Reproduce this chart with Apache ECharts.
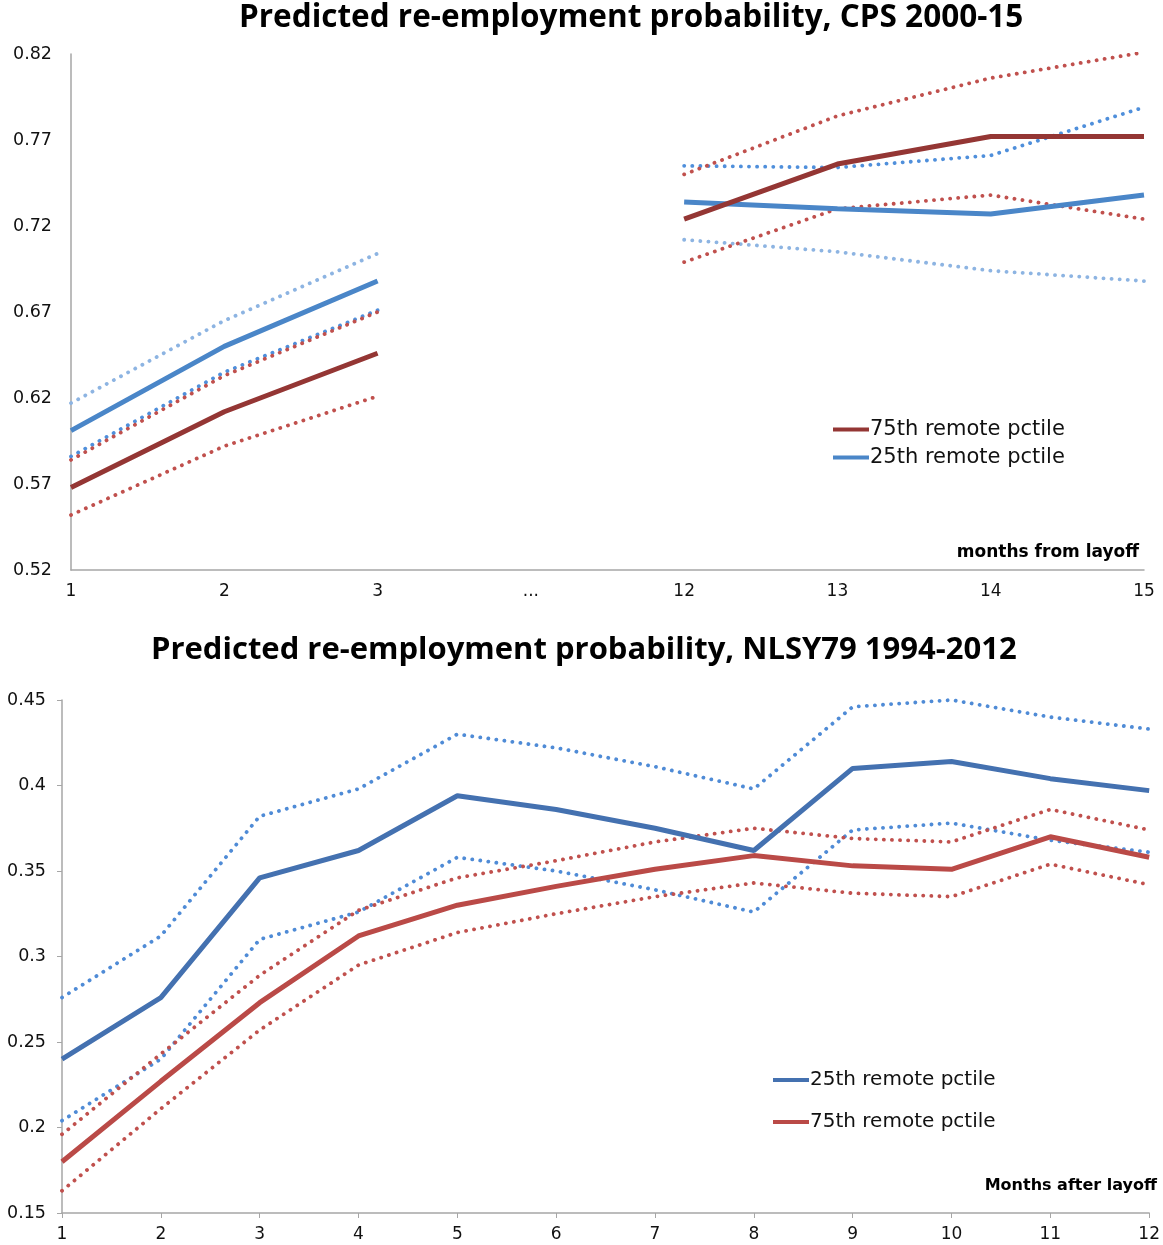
<!DOCTYPE html>
<html>
<head>
<meta charset="utf-8">
<script src="https://cdn.jsdelivr.net/npm/echarts@6/dist/echarts.min.js"></script>
<style>
  html, body { margin: 0; padding: 0; background: #fff; }
  #chart-container { width: 1163px; height: 1245px; }
</style>
</head>
<body>
<div id="chart-container"></div>
<script>
// 上圖: CPS 2000-15
var cpsMonths = ['1', '2', '3', '...', '12', '13', '14', '15'];
var cpsYTicks = [0.52, 0.57, 0.62, 0.67, 0.72, 0.77, 0.82];
var cps75 = [0.568, 0.612, 0.646, null, 0.724, 0.756, 0.772, 0.772];
var cps25 = [0.601, 0.650, 0.688, null, 0.734, 0.730, 0.727, 0.738];
var cps75Hi = [0.584, 0.633, 0.670, null, 0.750, 0.784, 0.806, 0.821];
var cps75Lo = [0.552, 0.592, 0.621, null, 0.699, 0.730, 0.738, 0.724];
var cps25DotLight = [0.617, 0.665, 0.704, null, 0.712, 0.705, 0.694, 0.688]; // 淺藍虛線
var cps25DotMid = [0.586, 0.635, 0.671, null, 0.755, 0.754, 0.761, 0.789];   // 中藍虛線

// 下圖: NLSY79 1994-2012
var nlsyMonths = ['1', '2', '3', '4', '5', '6', '7', '8', '9', '10', '11', '12'];
var nlsyYTicks = [0.15, 0.2, 0.25, 0.3, 0.35, 0.4, 0.45];
var nlsy25 = [0.240, 0.276, 0.346, 0.362, 0.394, 0.386, 0.375, 0.362, 0.410, 0.414, 0.404, 0.397];
var nlsy25Hi = [0.276, 0.312, 0.382, 0.398, 0.430, 0.422, 0.411, 0.398, 0.446, 0.450, 0.440, 0.433];
var nlsy25Lo = [0.204, 0.240, 0.310, 0.326, 0.358, 0.350, 0.339, 0.326, 0.374, 0.378, 0.368, 0.361];
var nlsy75 = [0.180, 0.227, 0.273, 0.312, 0.330, 0.341, 0.351, 0.359, 0.353, 0.351, 0.370, 0.358];
var nlsy75Hi = [0.196, 0.243, 0.289, 0.327, 0.346, 0.356, 0.367, 0.375, 0.369, 0.367, 0.386, 0.374];
var nlsy75Lo = [0.163, 0.211, 0.257, 0.295, 0.314, 0.325, 0.335, 0.343, 0.337, 0.335, 0.354, 0.342];

var font = 'DejaVu Sans';
var titleFont = 'Open Sans';

function solid(name, data, color, idx) {
    return {
        name: name, type: 'line', data: data,
        xAxisIndex: idx, yAxisIndex: idx,
        showSymbol: false, symbol: 'none', silent: true, z: 3,
        lineStyle: { color: color, width: 5 },
        itemStyle: { color: color }
    };
}

function dotted(data, color, idx) {
    return {
        type: 'line', data: data,
        xAxisIndex: idx, yAxisIndex: idx,
        showSymbol: false, symbol: 'none', silent: true, z: 2,
        lineStyle: { color: color, width: 3.8, type: [0.1, 8], cap: 'round' }
    };
}

var chart = echarts.init(document.getElementById('chart-container'));

var option = {
    animation: false,
    backgroundColor: '#fff',
    title: [
        { // 上圖標題
            text: 'Predicted re-employment probability, CPS 2000-15',
            left: 239, top: 2, padding: 0,
            textStyle: { fontFamily: titleFont, fontSize: 31.5, fontWeight: 'bold', color: '#000' }
        },
        { // 下圖標題
            text: 'Predicted re-employment probability, NLSY79 1994-2012',
            left: 151, top: 635, padding: 0,
            textStyle: { fontFamily: titleFont, fontSize: 31, fontWeight: 'bold', color: '#000' }
        },
        {
            text: 'months from layoff',
            right: 24, top: 544, padding: 0,
            textStyle: { fontFamily: font, fontSize: 17, fontWeight: 'bold', color: '#000' }
        },
        {
            text: 'Months after layoff',
            right: 6, top: 1178, padding: 0,
            textStyle: { fontFamily: font, fontSize: 16, fontWeight: 'bold', color: '#000' }
        }
    ],
    legend: [
        {
            left: 828, top: 414, orient: 'vertical', itemGap: 7,
            icon: 'rect', itemWidth: 36, itemHeight: 4, selectedMode: false,
            textStyle: { fontFamily: font, fontSize: 21, color: '#111', padding: [0, 0, 0, -4] },
            data: [
                { name: '75th remote pctile', itemStyle: { color: '#943634' } },
                { name: '25th remote pctile', itemStyle: { color: '#4A86C8' } }
            ]
        },
        {
            left: 768, top: 1065, orient: 'vertical', itemGap: 22,
            icon: 'rect', itemWidth: 36, itemHeight: 4, selectedMode: false,
            textStyle: { fontFamily: font, fontSize: 20, color: '#111', padding: [0, 0, 0, -4] },
            data: [
                { name: '25th remote pctile ', itemStyle: { color: '#4471B0' } },
                { name: '75th remote pctile ', itemStyle: { color: '#BA4A47' } }
            ],
            formatter: function (n) { return n.trim(); }
        }
    ],
    grid: [
        { left: 71, right: 19, top: 54, height: 516 },
        { left: 62, right: 13, top: 700, height: 513 }
    ],
    xAxis: [
        {
            gridIndex: 0, type: 'category', data: cpsMonths, boundaryGap: false,
            axisLine: { lineStyle: { color: '#A6A6A6', width: 1.5 } },
            axisTick: { show: false },
            axisLabel: { fontFamily: font, fontSize: 17, color: '#111', margin: 13 }
        },
        {
            gridIndex: 1, type: 'category', data: nlsyMonths, boundaryGap: false,
            axisLine: { lineStyle: { color: '#A6A6A6', width: 1.5 } },
            axisTick: { show: true, length: 5, lineStyle: { color: '#A6A6A6' } },
            axisLabel: { fontFamily: font, fontSize: 17, color: '#111', margin: 13 }
        }
    ],
    yAxis: [
        {
            gridIndex: 0, type: 'value', min: 0.52, max: 0.82, interval: 0.05,
            splitLine: { show: false },
            axisLine: { show: true, lineStyle: { color: '#A6A6A6', width: 1.5 } },
            axisTick: { show: false },
            axisLabel: {
                fontFamily: font, fontSize: 17.5, color: '#111', margin: 19,
                customValues: cpsYTicks,
                formatter: function (v) { return v.toFixed(2); }
            }
        },
        {
            gridIndex: 1, type: 'value', min: 0.15, max: 0.45, interval: 0.05,
            splitLine: { show: false },
            axisLine: { show: true, lineStyle: { color: '#A6A6A6', width: 1.5 } },
            axisTick: { show: true, length: 5, lineStyle: { color: '#A6A6A6' }, customValues: nlsyYTicks },
            axisLabel: {
                fontFamily: font, fontSize: 17.5, color: '#111', margin: 16,
                customValues: nlsyYTicks,
                formatter: function (v) { return String(+v.toFixed(2)); }
            }
        }
    ],
    series: [
        // 上圖虛線
        dotted(cps25DotLight, '#8DB4E2', 0),
        dotted(cps25DotMid, '#4F8FDB', 0),
        dotted(cps75Hi, '#C0504D', 0),
        dotted(cps75Lo, '#C0504D', 0),
        // 上圖實線
        solid('25th remote pctile', cps25, '#4A86C8', 0),
        solid('75th remote pctile', cps75, '#943634', 0),
        // 下圖虛線
        dotted(nlsy25Hi, '#4F8BD6', 1),
        dotted(nlsy25Lo, '#4F8BD6', 1),
        dotted(nlsy75Hi, '#C0504D', 1),
        dotted(nlsy75Lo, '#C0504D', 1),
        // 下圖實線
        solid('25th remote pctile ', nlsy25, '#4471B0', 1),
        solid('75th remote pctile ', nlsy75, '#BA4A47', 1)
    ]
};

chart.setOption(option);
</script>
</body>
</html>
